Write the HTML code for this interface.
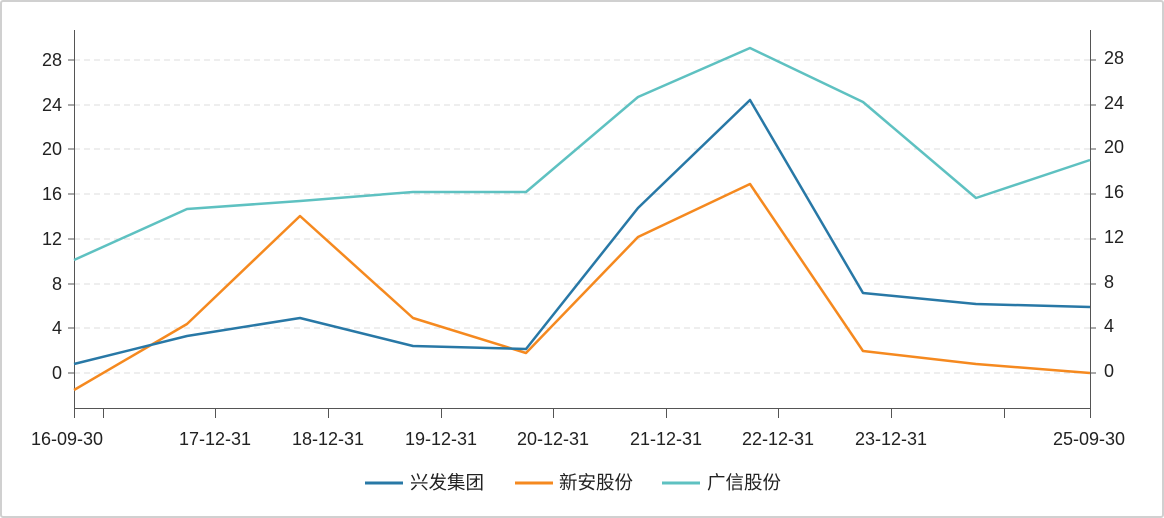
<!DOCTYPE html>
<html><head><meta charset="utf-8"><style>
body{margin:0;background:#fff;}
.f{position:absolute;left:0;top:0;width:1160px;height:514px;border:2px solid #d0d0d0;border-radius:3px;}
svg{position:absolute;left:0;top:0}
text{font-family:"Liberation Sans","Noto Sans CJK SC",sans-serif;font-size:18px;fill:#222}
.lg{font-size:18.5px}
</style></head><body>
<div class="f"></div>
<svg width="1164" height="518">
<g stroke="#dedede" stroke-dasharray="6,4" stroke-width="1">
<line x1="74" x2="1090" y1="60" y2="60"/><line x1="74" x2="1090" y1="105" y2="105"/>
<line x1="74" x2="1090" y1="149" y2="149"/><line x1="74" x2="1090" y1="194" y2="194"/>
<line x1="74" x2="1090" y1="239" y2="239"/><line x1="74" x2="1090" y1="284" y2="284"/>
<line x1="74" x2="1090" y1="328" y2="328"/><line x1="74" x2="1090" y1="373" y2="373"/>
</g>
<g stroke="#555" stroke-width="1">
<line x1="74.5" y1="30" x2="74.5" y2="408"/><line x1="1090.5" y1="30" x2="1090.5" y2="408"/>
<line x1="74" y1="408.5" x2="1090" y2="408.5"/>
<line x1="68" x2="74" y1="60" y2="60"/><line x1="68" x2="74" y1="105" y2="105"/><line x1="68" x2="74" y1="149" y2="149"/><line x1="68" x2="74" y1="194" y2="194"/><line x1="68" x2="74" y1="239" y2="239"/><line x1="68" x2="74" y1="284" y2="284"/><line x1="68" x2="74" y1="328" y2="328"/><line x1="68" x2="74" y1="373" y2="373"/>
<line x1="1090" x2="1096" y1="60" y2="60"/><line x1="1090" x2="1096" y1="105" y2="105"/><line x1="1090" x2="1096" y1="149" y2="149"/><line x1="1090" x2="1096" y1="194" y2="194"/><line x1="1090" x2="1096" y1="239" y2="239"/><line x1="1090" x2="1096" y1="284" y2="284"/><line x1="1090" x2="1096" y1="328" y2="328"/><line x1="1090" x2="1096" y1="373" y2="373"/>
<line x1="103.5" x2="103.5" y1="408" y2="418"/><line x1="215.5" x2="215.5" y1="408" y2="418"/><line x1="328.5" x2="328.5" y1="408" y2="418"/><line x1="441.5" x2="441.5" y1="408" y2="418"/><line x1="553.5" x2="553.5" y1="408" y2="418"/><line x1="666.5" x2="666.5" y1="408" y2="418"/><line x1="778.5" x2="778.5" y1="408" y2="418"/><line x1="891.5" x2="891.5" y1="408" y2="418"/><line x1="1004.5" x2="1004.5" y1="408" y2="418"/><line x1="74.5" x2="74.5" y1="408" y2="418"/><line x1="1090.5" x2="1090.5" y1="408" y2="418"/>
</g>
<g text-anchor="end">
<text x="62" y="66">28</text><text x="62" y="111">24</text><text x="62" y="155">20</text><text x="62" y="200">16</text><text x="62" y="245">12</text><text x="62" y="290">8</text><text x="62" y="334">4</text><text x="62" y="379">0</text>
</g>
<g>
<text x="1104" y="64">28</text><text x="1104" y="109">24</text><text x="1104" y="153">20</text><text x="1104" y="198">16</text><text x="1104" y="243">12</text><text x="1104" y="288">8</text><text x="1104" y="332">4</text><text x="1104" y="377">0</text>
</g>
<g text-anchor="middle">
<text x="67" y="445">16-09-30</text><text x="215" y="445">17-12-31</text><text x="328" y="445">18-12-31</text><text x="441" y="445">19-12-31</text><text x="553" y="445">20-12-31</text><text x="666" y="445">21-12-31</text><text x="778" y="445">22-12-31</text><text x="891" y="445">23-12-31</text><text x="1089" y="445">25-09-30</text>
</g>
<g fill="none" stroke-width="2.5" stroke-linejoin="round">
<polyline stroke="#5ec1c1" points="74,260 187,209 300,201 413,192 526,192 638,97 750,48 863,102 976,198 1090,160"/>
<polyline stroke="#f5891f" points="74,390 187,324 300,216 413,318 526,353 638,237 750,184 863,351 976,364 1090,373"/>
<polyline stroke="#2878a6" points="74,364 187,336 300,318 413,346 526,349 638,208 750,100 863,293 976,304 1090,307"/>
</g>
<line x1="365" x2="403" y1="483" y2="483" stroke="#2878a6" stroke-width="3"/><text class="lg" x="410" y="489">兴发集团</text>
<line x1="515" x2="553" y1="483" y2="483" stroke="#f5891f" stroke-width="3"/><text class="lg" x="559" y="489">新安股份</text>
<line x1="662" x2="700" y1="483" y2="483" stroke="#5ec1c1" stroke-width="3"/><text class="lg" x="707" y="489">广信股份</text>
</svg>
</body></html>
